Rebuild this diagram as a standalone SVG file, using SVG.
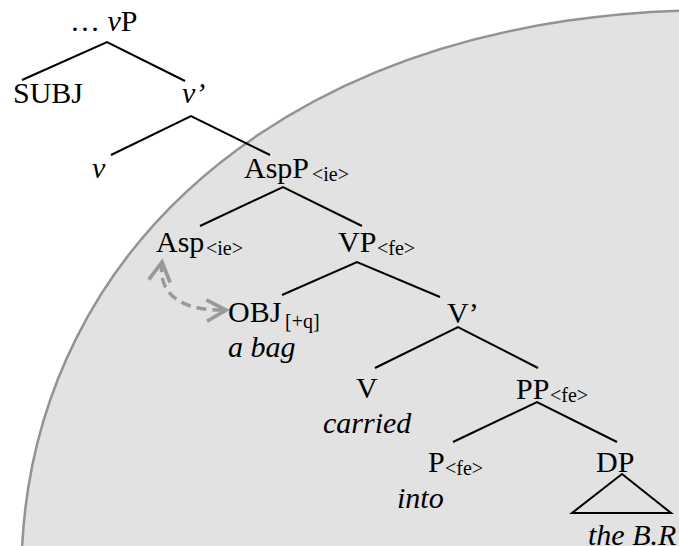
<svg xmlns="http://www.w3.org/2000/svg" width="679" height="546" viewBox="0 0 679 546" font-family="'Liberation Serif', 'Times New Roman', 'DejaVu Serif', serif">
<style>
text{font-family:'Liberation Serif','Times New Roman','DejaVu Serif',serif;font-size:30px;fill:#000}
.it{font-style:italic}
.sub{font-size:20px}
.br{stroke:#000;stroke-width:2;fill:none}
.mv{stroke:#999;stroke-width:3.5;fill:none;stroke-dasharray:10 6}
</style>
<defs>
<marker id="chev" markerUnits="userSpaceOnUse" markerWidth="30" markerHeight="30" viewBox="-24 -14 28 28" refX="0" refY="0" orient="auto-start-reverse">
<path d="M-18,-10 L0,0 L-18,10" fill="none" stroke="#999" stroke-width="3.5"/>
</marker>
</defs>
<ellipse id="domain" cx="974" cy="790" rx="1005" ry="711" transform="rotate(26.8 974 790)" fill="#e2e2e2" stroke="#939393" stroke-width="2.5"/>
<g id="connectors">
<path class="br" d="M22,80 L107,42 L185,81"/>
<path class="br" d="M111,155 L191,116 L270,155"/>
<path class="br" d="M200,226 L283,187 L362,226"/>
<path class="br" d="M282,295 L357,262 L440,297"/>
<path class="br" d="M375,368 L458,327 L538,368"/>
<path class="br" d="M453,442 L537,402 L617,442"/>
<path class="mv" d="M162,262 C157,300 190,311 226,310" marker-start="url(#chev)" marker-end="url(#chev)"/>
</g>
<g id="n-vP"><text x="70" y="31">… <tspan class="it">v</tspan>P</text></g>
<g id="n-SUBJ"><text x="13" y="103">SUBJ</text></g>
<g id="n-vbar"><text class="it" x="182" y="103">v’</text></g>
<g id="n-v"><text class="it" x="92" y="178">v</text></g>
<g id="n-AspP"><text x="244" y="178">AspP</text><text class="sub" x="312" y="181">&lt;ie&gt;</text></g>
<g id="n-Asp"><text x="156" y="252">Asp</text><text class="sub" x="206" y="255">&lt;ie&gt;</text></g>
<g id="n-VP"><text x="338" y="252">VP</text><text class="sub" x="377" y="255">&lt;fe&gt;</text></g>
<g id="n-OBJ"><text x="228" y="322">OBJ</text><text class="sub" x="285" y="328">[+q]</text><text class="it" x="228" y="357">a bag</text></g>
<g id="n-Vbar"><text x="447" y="323">V’</text></g>
<g id="n-V"><text x="356" y="398">V</text><text class="it" x="323" y="433">carried</text></g>
<g id="n-PP"><text x="516" y="399">PP</text><text class="sub" x="550" y="402">&lt;fe&gt;</text></g>
<g id="n-P"><text x="428" y="472">P</text><text class="sub" x="445" y="475">&lt;fe&gt;</text><text class="it" x="397" y="508">into</text></g>
<g id="n-DP"><text x="596" y="472">DP</text><path class="br" d="M622,474 L572,513 L671,513 Z"/><text class="it" x="588" y="545">the B.R</text></g>
</svg>
